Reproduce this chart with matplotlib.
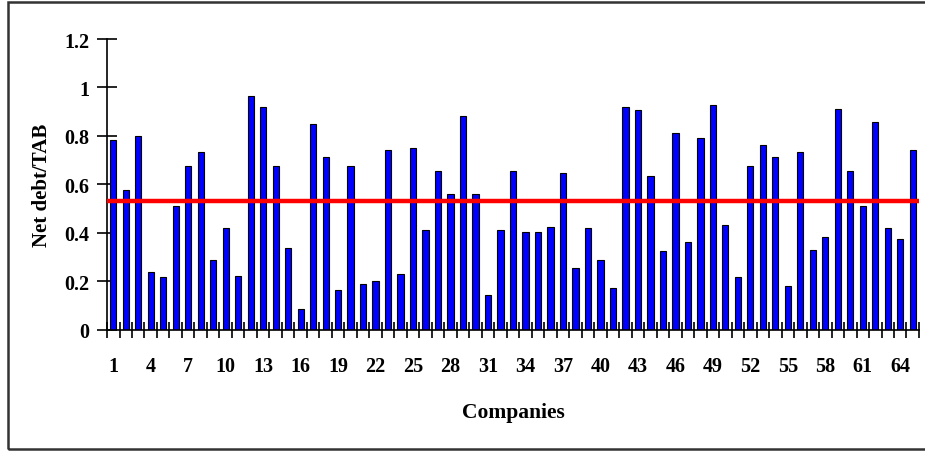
import numpy as np
import matplotlib
matplotlib.use('Agg')
import matplotlib.pyplot as plt
from matplotlib.patches import Rectangle

# net debt / TAB per company
companies = list(range(1, 66))
net_debt_tab = [
    0.784, 0.575, 0.798, 0.237, 0.216, 0.510, 0.677, 0.735, 0.289, 0.418,
    0.223, 0.963, 0.920, 0.677, 0.338, 0.085, 0.849, 0.713, 0.165, 0.677,
    0.187, 0.200, 0.740, 0.230, 0.748, 0.411, 0.655, 0.561, 0.883, 0.561,
    0.143, 0.411, 0.655, 0.403, 0.403, 0.425, 0.648, 0.253, 0.418, 0.289,
    0.173, 0.920, 0.908, 0.633, 0.325, 0.812, 0.360, 0.791, 0.927, 0.432,
    0.216, 0.677, 0.762, 0.713, 0.182, 0.735, 0.331, 0.381, 0.913, 0.655,
    0.510, 0.856, 0.418, 0.374, 0.741,
]
average_level = 0.532
y_ticks = [0, 0.2, 0.4, 0.6, 0.8, 1, 1.2]
y_tick_labels = ['0', '0.2', '0.4', '0.6', '0.8', '1', '1.2']
x_label_every = 3

plt.rcParams['font.family'] = ['Liberation Serif', 'DejaVu Serif']
plt.rcParams['font.weight'] = 'bold'

fig = plt.figure(figsize=(9.25, 4.52), dpi=100)
ax = fig.add_axes([0.1157, 0.2684, 0.8778, 0.6431])

x = np.arange(len(companies))
ax.bar(x, net_debt_tab, width=0.5, color='#0000ff', edgecolor='black', linewidth=0.8, zorder=2)
ax.axhline(average_level, color='#ff0000', linewidth=3.2, zorder=3)

ax.set_xlim(-0.5, len(companies) - 0.5)
ax.set_ylim(0, 1.2)

ax.spines['top'].set_visible(False)
ax.spines['right'].set_visible(False)
ax.spines['left'].set_linewidth(1.2)
ax.spines['bottom'].set_linewidth(1.2)

ax.set_yticks(y_ticks)
ax.set_yticklabels(y_tick_labels, fontsize=14.5, fontweight='bold')
ax.tick_params(axis='y', direction='inout', length=15, width=1.2, pad=5)

# labels at every third company, tick marks at category boundaries
label_pos = x[::x_label_every]
ax.set_xticks(label_pos)
ax.set_xticklabels([str(companies[i]) for i in label_pos], fontsize=14.5, fontweight='bold')
ax.set_xticks(np.arange(len(companies) + 1) - 0.5, minor=True)
ax.tick_params(axis='x', which='major', length=0, pad=19)
ax.tick_params(axis='x', which='minor', direction='inout', length=11, width=1.2)

ax.set_xlabel('Companies', fontsize=15.5, fontweight='bold', labelpad=19)
ax.set_ylabel('Net debt/TAB', fontsize=15, fontweight='bold', labelpad=9)

# outer frame of the original picture
fig.patches.append(Rectangle((8 / 925, 2 / 452), 1.0, 447 / 452, transform=fig.transFigure,
                             fill=False, edgecolor='#333333', linewidth=1.8))

fig.savefig('out.png', dpi=100)
